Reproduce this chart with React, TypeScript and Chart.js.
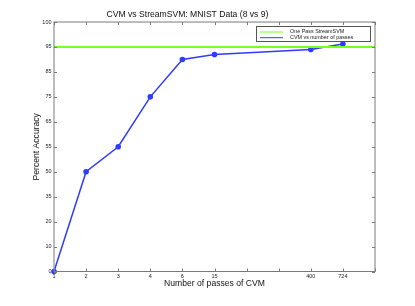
import React, { useEffect, useRef } from "react";
import { Chart, registerables } from "chart.js";

Chart.register(...registerables);

const chartTitle = "CVM vs StreamSVM: MNIST Data (8 vs 9)";
const xAxisTitle = "Number of passes of CVM";
const yAxisTitle = "Percent Accuracy";
const xTickLabels = ["1", "2", "3", "4", "6", "15", "", "", "400", "724", ""];
const yTickLabels = ["0", "10", "20", "35", "50", "55", "65", "75", "85", "95", "100"];
const passes = [1, 2, 3, 4, 6, 15, 400, 724];
const cvmAccuracy = [0, 50, 55, 75, 90, 92, 94, 95.6];
const streamSvmAccuracy = 95;
const streamLabel = "One Pass StreamSVM";
const cvmLabel = "CVM vs number of passes";

const FONT = "'Liberation Sans', Arial, Helvetica, sans-serif";
const BLUE = "#2f3cff";
const GREEN = "#77ff22";
const FRAME = "#7a7a7a";

const yVals = yTickLabels.map(Number);
function yPos(v: number): number {
  for (let i = 0; i < yVals.length - 1; i++) {
    if (v >= yVals[i] && v <= yVals[i + 1]) {
      return i + (v - yVals[i]) / (yVals[i + 1] - yVals[i]);
    }
  }
  return v <= yVals[0] ? 0 : yVals.length - 1;
}
function xPos(p: number): number {
  return xTickLabels.indexOf(String(p));
}

const framePlugin = {
  id: "matlabFrame",
  afterDatasetsDraw(chart: any) {
    const { ctx, chartArea: a, scales } = chart;
    ctx.save();
    ctx.strokeStyle = FRAME;
    ctx.lineWidth = 1;
    ctx.strokeRect(a.left, a.top, a.right - a.left, a.bottom - a.top);
    const tl = 3;
    ctx.beginPath();
    for (let i = 0; i < xTickLabels.length; i++) {
      const x = Math.round(scales.x.getPixelForValue(i)) + 0.5;
      ctx.moveTo(x, a.bottom);
      ctx.lineTo(x, a.bottom - tl);
      ctx.moveTo(x, a.top);
      ctx.lineTo(x, a.top + tl);
    }
    for (let i = 0; i < yTickLabels.length; i++) {
      const y = Math.round(scales.y.getPixelForValue(i)) + 0.5;
      ctx.moveTo(a.left, y);
      ctx.lineTo(a.left + tl, y);
      ctx.moveTo(a.right, y);
      ctx.lineTo(a.right - tl, y);
    }
    ctx.stroke();

    // legend box
    const bx = 256.5, by = 26.5, bw = 114, bh = 15;
    ctx.fillStyle = "#ffffff";
    ctx.fillRect(bx, by, bw, bh);
    ctx.strokeStyle = "#555";
    ctx.strokeRect(bx, by, bw, bh);
    ctx.font = `5.4px ${FONT}`;
    ctx.textBaseline = "middle";
    ctx.textAlign = "left";
    chart.data.datasets.forEach((ds: any, i: number) => {
      const y = 32 + i * 5.7;
      ctx.strokeStyle = ds.borderColor;
      ctx.lineWidth = 1;
      ctx.beginPath();
      ctx.moveTo(260, y);
      ctx.lineTo(283, y);
      ctx.stroke();
      ctx.fillStyle = "#222";
      ctx.fillText(ds.label, 290, y);
    });
    ctx.restore();
  },
};

export default function App() {
  const ref = useRef<HTMLCanvasElement>(null);
  useEffect(() => {
    document.body.style.margin = "0";
    const chart = new Chart(ref.current!, {
      type: "line",
      data: {
        datasets: [
          {
            label: streamLabel,
            data: [
              { x: 0, y: yPos(streamSvmAccuracy) },
              { x: xTickLabels.length - 1, y: yPos(streamSvmAccuracy) },
            ],
            borderColor: GREEN,
            backgroundColor: GREEN,
            borderWidth: 2,
            pointRadius: 0,
            clip: false,
          },
          {
            label: cvmLabel,
            data: passes.map((p, i) => ({ x: xPos(p), y: yPos(cvmAccuracy[i]) })),
            borderColor: BLUE,
            backgroundColor: BLUE,
            borderWidth: 1.5,
            pointRadius: 2.8,
            pointBorderWidth: 0,
            clip: false,
          },
        ],
      },
      options: {
        animation: false,
        responsive: false,
        layout: { padding: { left: 0, right: 40, top: 0, bottom: 0 } },
        plugins: {
          legend: { display: false },
          tooltip: { enabled: false },
          title: {
            display: true,
            text: chartTitle,
            color: "#111",
            font: { family: FONT, size: 8.6, weight: "normal" },
            padding: { top: 9.8, bottom: 1.9 },
          },
        },
        scales: {
          x: {
            type: "linear",
            min: 0,
            max: xTickLabels.length - 1,
            grid: { display: false, drawTicks: false },
            border: { display: false },
            afterFit: (s: any) => { s.height = 34.5; },
            afterBuildTicks: (s: any) => {
              s.ticks = xTickLabels.map((_, i) => ({ value: i }));
            },
            ticks: {
              autoSkip: false,
              maxRotation: 0,
              padding: 2,
              color: "#222",
              font: { family: FONT, size: 5.5 },
              callback: (v: any) => xTickLabels[v] ?? "",
            },
            title: {
              display: true,
              text: xAxisTitle,
              color: "#111",
              font: { family: FONT, size: 8.6 },
              padding: { top: 0, bottom: 16.8 },
            },
          },
          y: {
            type: "linear",
            min: 0,
            max: yTickLabels.length - 1,
            grid: { display: false, drawTicks: false },
            border: { display: false },
            afterFit: (s: any) => { s.width = 54; },
            afterBuildTicks: (s: any) => {
              s.ticks = yTickLabels.map((_, i) => ({ value: i }));
            },
            ticks: {
              autoSkip: false,
              padding: 2.5,
              color: "#222",
              font: { family: FONT, size: 5.5 },
              callback: (v: any) => yTickLabels[v] ?? "",
            },
            title: {
              display: true,
              text: yAxisTitle,
              color: "#111",
              font: { family: FONT, size: 8.6 },
              padding: { top: 31.8, bottom: 0 },
            },
          },
        },
      },
      plugins: [framePlugin],
    } as any);
    return () => chart.destroy();
  }, []);
  return (
    <div style={{ position: "absolute", left: 0, top: 0, width: 415, height: 306, background: "#fff" }}>
      <canvas ref={ref} width={415} height={306} style={{ display: "block" }} />
    </div>
  );
}
